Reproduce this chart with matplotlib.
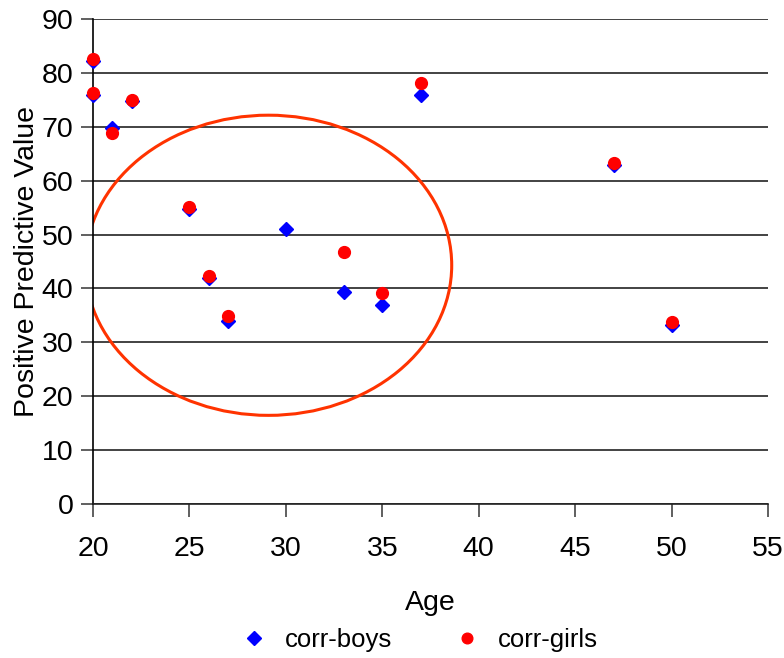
import matplotlib
matplotlib.use("Agg")
import matplotlib.pyplot as plt
from matplotlib.patches import Ellipse

plt.rcParams['font.family'] = ['Liberation Sans', 'DejaVu Sans']

boys_age = [20, 20, 21, 22, 25, 26, 27, 30, 33, 35, 37, 47, 50]
boys_ppv = [82.2, 75.9, 69.8, 74.7, 54.8, 42.0, 34.0, 51.1, 39.3, 37.0, 75.9, 63.0, 33.3]
girls_age = [20, 20, 21, 22, 25, 26, 27, 33, 35, 37, 47, 50]
girls_ppv = [82.5, 76.2, 68.9, 75.0, 55.1, 42.3, 34.8, 46.7, 39.2, 78.1, 63.3, 33.7]

x_ticks = [20, 25, 30, 35, 40, 45, 50, 55]
y_ticks = [0, 10, 20, 30, 40, 50, 60, 70, 80, 90]

fig = plt.figure(figsize=(7.84, 6.58), dpi=100)
ax = fig.add_axes([93/784, 1-504/658, (768-93)/784, (504-19)/658])

ax.set_xlim(20, 55)
ax.set_ylim(0, 90)
ax.set_xticks(x_ticks)
ax.set_yticks(y_ticks)
ax.yaxis.grid(True, color='#222222', linewidth=1.2)
ax.set_axisbelow(True)
for s in ['top', 'right']:
    ax.spines[s].set_visible(False)
ax.spines['left'].set_linewidth(1.2)
ax.spines['bottom'].set_linewidth(1.2)
ax.spines['bottom'].set_color('#222222')
ax.tick_params(axis='both', direction='out', length=9, width=1.2, labelsize=20.5, color='#444444')
ax.tick_params(axis='x', pad=14)
ax.tick_params(axis='y', pad=5)

ax.plot(boys_age, boys_ppv, linestyle='none', marker='D', markersize=7.5,
        color='#0000FF', markeredgecolor='#0000FF', label='corr-boys', clip_on=False, zorder=3)
ax.plot(girls_age, girls_ppv, linestyle='none', marker='o', markersize=8.5,
        color='#FF0000', markeredgecolor='#FF0000', label='corr-girls', clip_on=False, zorder=4)

ell = Ellipse((29.1, 44.3), 19.0, 55.7, fill=False, edgecolor='#FF3300', linewidth=2.2, zorder=2)
ax.add_patch(ell)

ax.set_xlabel('Age', fontsize=20.5, labelpad=20)
ax.set_ylabel('Positive Predictive Value', fontsize=20.5, va='center')
ax.yaxis.set_label_coords(-0.098, 0.5)

fig.legend(loc='center', bbox_to_anchor=(0.527, 1-640/658), ncol=2, frameon=False,
           fontsize=18.5, columnspacing=1.9, handletextpad=0.2, markerscale=0.9)

fig.savefig('out.png', dpi=100)
